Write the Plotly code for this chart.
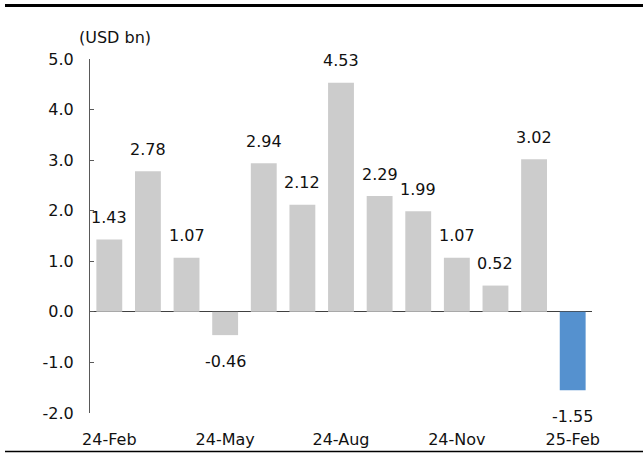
import plotly.graph_objects as go

# Monthly values, USD bn
months = ["24-Feb", "24-Mar", "24-Apr", "24-May", "24-Jun", "24-Jul", "24-Aug",
          "24-Sep", "24-Oct", "24-Nov", "24-Dec", "25-Jan", "25-Feb"]
values = [1.43, 2.78, 1.07, -0.46, 2.94, 2.12, 4.53, 2.29, 1.99, 1.07, 0.52, 3.02, -1.55]
tick_labels = ["24-Feb", "24-May", "24-Aug", "24-Nov", "25-Feb"]
y_ticks = [-2, -1, 0, 1, 2, 3, 4, 5]

FONT = "DejaVu Sans, Verdana, sans-serif"
FS = 16
GREY = "#CCCCCC"
BLUE = "#5591CF"
TXT = "#111111"

xs = list(range(len(months)))
colors = [GREY] * (len(values) - 1) + [BLUE]
tick_pos = [months.index(t) for t in tick_labels]

# pixel helpers for positioning paper-space items
L, R, T, B = 90, 51, 59, 40
W, H = 643, 453
pw, ph = W - L - R, H - T - B
def px_x(p):
    return (p - L) / pw
def px_y(p):
    return (H - B - p) / ph

fig = go.Figure()
fig.add_trace(go.Bar(
    x=xs, y=values, marker=dict(color=colors, line=dict(width=0)),
    width=0.67, hoverinfo="skip", showlegend=False,
))

annotations = []
for x, v in zip(xs, values):
    annotations.append(dict(
        x=x, y=v, xref="x", yref="y", text=f"{v:.2f}", showarrow=False,
        yanchor="middle", xanchor="center",
        yshift=22 if v >= 0 else -26,
        font=dict(family=FONT, size=FS, color=TXT),
    ))
annotations.append(dict(
    x=px_x(115), y=px_y(37), xref="paper", yref="paper", text="(USD bn)",
    showarrow=False, xanchor="center", yanchor="middle",
    font=dict(family=FONT, size=FS, color=TXT),
))

shapes = [
    dict(type="line", xref="paper", yref="paper", x0=px_x(5), x1=px_x(643),
         y0=px_y(5.5), y1=px_y(5.5), line=dict(color="black", width=3)),
    dict(type="line", xref="paper", yref="paper", x0=px_x(5), x1=px_x(643),
         y0=px_y(451.5), y1=px_y(451.5), line=dict(color="black", width=1.5)),
]

fig.update_layout(
    width=W, height=H,
    margin=dict(l=L, r=R, t=T, b=B, pad=0, autoexpand=False),
    paper_bgcolor="white", plot_bgcolor="white",
    font=dict(family=FONT, size=FS, color=TXT),
    annotations=annotations,
    shapes=shapes,
    xaxis=dict(
        range=[-0.5, 12.5], tickvals=tick_pos, ticktext=tick_labels,
        showgrid=False, zeroline=False, showline=False, ticks="",
        ticklabelstandoff=15, automargin=False,
    ),
    yaxis=dict(
        range=[-2, 5], tickvals=y_ticks, ticktext=[f"{t:.1f}" for t in y_ticks],
        showgrid=False, zeroline=True, zerolinecolor="#404040", zerolinewidth=1,
        showline=True, linecolor="#595959", linewidth=1,
        ticks="inside", ticklen=4, tickcolor="#595959",
        ticklabelstandoff=12, automargin=False,
    ),
)

fig.write_html("out.html")
